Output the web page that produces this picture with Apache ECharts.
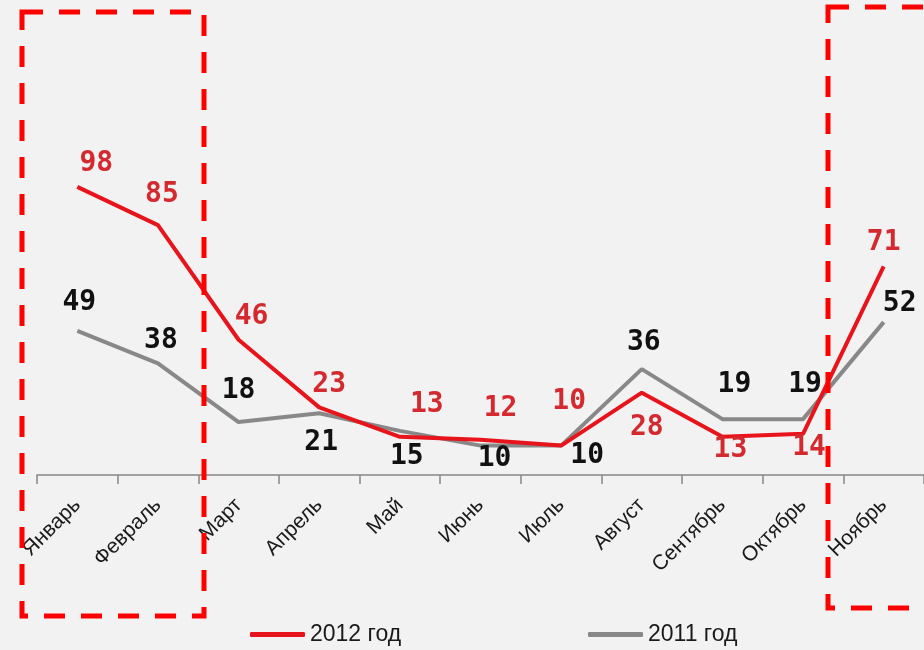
<!DOCTYPE html>
<html>
<head>
<meta charset="utf-8">
<script src="https://cdn.jsdelivr.net/npm/echarts@6/dist/echarts.min.js"></script>
<style>
  html, body { margin: 0; padding: 0; background: #f2f2f2; }
  #chart { width: 924px; height: 650px; }
</style>
</head>
<body>
<div id="chart"></div>
<script>
const months = ['Январь', 'Февраль', 'Март', 'Апрель', 'Май', 'Июнь', 'Июль', 'Август', 'Сентябрь', 'Октябрь', 'Ноябрь']
const values2012 = [98, 85, 46, 23, 13, 12, 10, 28, 13, 14, 71]
const values2011 = [49, 38, 18, 21, 15, 10, 10, 36, 19, 19, 52]

// label offsets from each point
const offsets2012 = [[19, -23], [4, -30], [13, -23], [10, -23], [27, -32], [20, -31], [8, -44], [5, 35], [8, 13], [6, 14], [0, -24]]
const offsets2011 = [[2, -28], [3, -23], [0, -31], [2, 29], [7, 26], [14, 13], [26, 10], [2, -26], [12, -34], [2, -34], [16, -18]]

const labelFont = { fontFamily: 'DejaVu Sans Mono', fontWeight: 'bold', fontSize: 28 }

function withLabels(values, offsets, color) {
  return values.map((v, i) => ({
    value: v,
    label: { show: true, position: 'inside', offset: offsets[i], color, ...labelFont }
  }))
}

const chart = echarts.init(document.getElementById('chart'))

// dashed frames drawn over the chart
function dashedBox(x, y, w, h) {
  return {
    type: 'rect',
    z: 100,
    shape: { x, y, width: w, height: h },
    style: { fill: 'none', stroke: '#ff0000', lineWidth: 5, lineDash: [21, 16] }
  }
}

const legendText = { fontFamily: 'Liberation Sans', fontSize: 23, color: '#1a1a1a' }

chart.setOption({
  backgroundColor: '#f2f2f2',
  animation: false,
  grid: { left: 37, right: 0, top: 181, bottom: 175 },
  legend: [
    {
      data: ['2012 год'], left: 245, top: 618,
      icon: 'roundRect', itemWidth: 55, itemHeight: 5, itemGap: 4,
      textStyle: legendText
    },
    {
      data: ['2011 год'], left: 583, top: 618,
      icon: 'roundRect', itemWidth: 55, itemHeight: 5,
      textStyle: legendText
    }
  ],
  xAxis: {
    type: 'category',
    data: months,
    boundaryGap: true,
    axisLine: { lineStyle: { color: '#868686', width: 1.5 } },
    axisTick: { show: true, length: 9, lineStyle: { color: '#868686', width: 1.5 } },
    axisLabel: { rotate: 45, margin: 27, interval: 0, color: '#1a1a1a', fontFamily: 'Liberation Sans', fontSize: 21 }
  },
  yAxis: {
    type: 'value',
    min: 0,
    max: 100,
    show: false
  },
  series: [
    {
      name: '2011 год',
      type: 'line',
      data: withLabels(values2011, offsets2011, '#111'),
      symbol: 'circle',
      symbolSize: 0.1,
      color: '#888888',
      lineStyle: { width: 4, color: '#888888' }
    },
    {
      name: '2012 год',
      type: 'line',
      data: withLabels(values2012, offsets2012, '#d42a2f'),
      symbol: 'circle',
      symbolSize: 0.1,
      color: '#e8141c',
      lineStyle: { width: 4, color: '#e8141c' }
    }
  ],
  graphic: [
    dashedBox(22, 12, 182, 604),
    dashedBox(828, 7, 110, 601)
  ]
})
</script>
</body>
</html>
